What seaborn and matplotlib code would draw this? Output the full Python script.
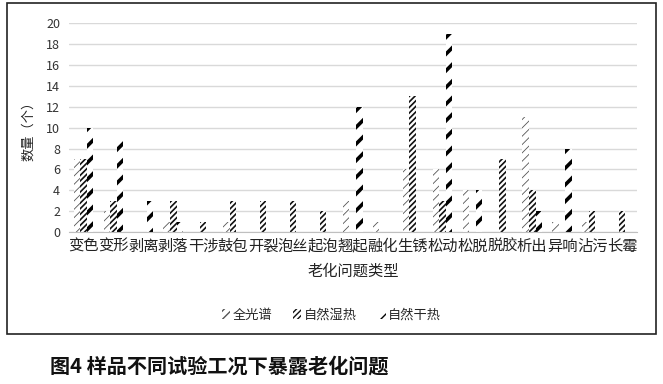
import pandas as pd
import matplotlib.pyplot as plt
import seaborn as sns
from matplotlib.patches import Patch, Rectangle

# data
categories = ['变色', '变形', '剥离', '剥落', '干涉', '鼓包', '开裂', '泡丝', '起泡', '翘起',
              '融化', '生锈', '松动', '松脱', '脱胶', '析出', '异响', '沾污', '长霉']
full_spectrum = [7, 2, 0, 1, 0, 1, 0, 0, 0, 3, 1, 6, 6, 4, 0, 11, 1, 1, 0]
humid_heat = [7, 3, 0, 3, 1, 3, 3, 3, 2, 0, 0, 13, 3, 0, 7, 4, 0, 2, 2]
dry_heat = [10, 9, 3, 1, 0, 0, 0, 0, 0, 12, 0, 0, 19, 4, 0, 2, 8, 0, 0]
series_names = ['全光谱', '自然湿热', '自然干热']
y_ticks = list(range(0, 21, 2))

rows = []
for name, vals in zip(series_names, [full_spectrum, humid_heat, dry_heat]):
    for c, v in zip(categories, vals):
        rows.append({'类型': c, '数量': v, '工况': name})
df = pd.DataFrame(rows)

sns.set_style('white')
plt.rcParams['font.family'] = ['Noto Sans CJK SC', 'DejaVu Sans']

fig = plt.figure(figsize=(6.63, 3.84), dpi=100)
ax = fig.add_axes([68.5 / 663, 1 - 232 / 384, (637 - 68.5) / 663, (232 - 23.3) / 384])

sns.barplot(data=df, x='类型', y='数量', hue='工况', order=categories,
            hue_order=series_names, width=0.66, dodge=True, legend=False, ax=ax)

# hatch styles: (hatch, colour, hatch linewidth)
styles = [('////', '#555555', 0.6), ('//////', '#111111', 1.2), ('//', '#000000', 2.6)]
for cont, (h, col, hlw) in zip(ax.containers, styles):
    for bar in cont:
        bar.set_facecolor('white')
        bar.set_edgecolor(col)
        bar.set_linewidth(0)
        bar.set_hatch(h)
        if hasattr(bar, 'set_hatch_linewidth'):
            bar.set_hatch_linewidth(hlw)

ax.set_ylim(0, 20)
ax.set_xlim(-0.5, len(categories) - 0.5)
ax.set_yticks(y_ticks)
ax.yaxis.grid(True, color='#d9d9d9', linewidth=1)
ax.set_axisbelow(True)
for s in ['top', 'right', 'left']:
    ax.spines[s].set_visible(False)
ax.spines['bottom'].set_color('#bfbfbf')
ax.tick_params(axis='both', length=0)
ax.tick_params(axis='y', labelsize=9, colors='#333333', pad=6)
ax.tick_params(axis='x', labelsize=11, colors='#222222', pad=4)
ax.set_xlabel('老化问题类型', fontsize=11, color='#222222', labelpad=6)
ax.set_ylabel('数量（个）', fontsize=9.5, color='#222222', labelpad=8)

handles = []
for (h, col, hlw), name in zip(styles, series_names):
    p = Patch(facecolor='white', edgecolor=col, linewidth=0, hatch=h, label=name)
    if hasattr(p, 'set_hatch_linewidth'):
        p.set_hatch_linewidth(hlw)
    handles.append(p)
fig.legend(handles=handles, loc='center', bbox_to_anchor=(0.5, 1 - 315 / 384), ncol=3,
           frameon=False, fontsize=9.5, handlelength=0.6, handleheight=0.7,
           handletextpad=0.2, columnspacing=1.6)

# outer frame of the figure box
fig.patches.append(Rectangle((7 / 663, 1 - 334 / 384), (656 - 7) / 663, (334 - 3) / 384,
                             transform=fig.transFigure, fill=False, edgecolor='#222222',
                             linewidth=1.2))

fig.text(50 / 663, 1 - 366 / 384, '图4 样品不同试验工况下暴露老化问题', fontsize=14.5,
         fontweight='bold', va='center', ha='left', color='#111111')

fig.savefig('out.png', dpi=100)
